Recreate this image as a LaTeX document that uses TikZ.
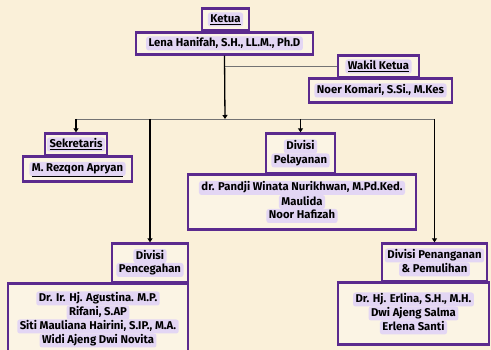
\documentclass[tikz,border=0pt]{standalone}
\usepackage{fontspec}
\setmainfont{Fira Sans}
\usetikzlibrary{arrows.meta,positioning,calc}

\definecolor{krem}{HTML}{FAF0D9}
\definecolor{ungu}{HTML}{5B2A8E}
\definecolor{lavender}{HTML}{E3D6F4}

\tikzset{
  box/.style={draw=ungu, line width=2.4pt, fill=krem!70!white, inner sep=0pt,
    align=center, font=\fontsize{11.3}{14}\selectfont\bfseries},
  hlbox/.style={draw=none, fill=lavender, rounded corners=2.5pt, minimum width=0pt,
    minimum height=0pt, inner xsep=2.5pt, inner ysep=1pt, text height=9pt,
    text depth=3pt},
  link/.style={line width=1.3pt},
  panah/.style={link, -{Triangle[width=5pt,length=4pt]}},
}
\newcommand{\hl}[1]{\tikz[baseline=(t.base)]\node[hlbox] (t) {#1};}

\begin{document}
\begin{tikzpicture}[x=1pt,y=-1pt]
    \fill[krem] (0,0) rectangle (491,350);
    \useasboundingbox (0,0) rectangle (491,350);
    \clip (0,0) rectangle (491,350);

    % Top: Ketua and Wakil Ketua
    \node[box, minimum width=47pt, minimum height=22pt] (ketua) at (225.5,19.5) {\hl{\underline{Ketua}}};
    \node[box, minimum width=177pt, minimum height=22pt] (ketuanama) at (224.5,43.5) {\hl{Lena Hanifah, S.H., LL.M., Ph.D}};
    \node[box, minimum width=81pt, minimum height=22pt] (wakil) at (378.5,66.5) {\hl{\underline{Wakil Ketua}}};
    \node[box, minimum width=143pt, minimum height=24pt] (wakilnama) at (380.5,90.5) {\hl{Noer Komari, S.Si., M.Kes}};

    % Middle: Sekretaris and Divisi Pelayanan
    \node[box, minimum width=62pt, minimum height=22pt] (sekretaris) at (76,144.5) {\hl{\underline{Sekretaris}}};
    \node[box, minimum width=109pt, minimum height=25pt] (sekretarisnama) at (77.5,169) {\hl{\underline{M. Rezqon Apryan}}};
    \node[box, minimum width=69pt, minimum height=40pt] (pelayanan) at (300.5,153.5) {\hl{Divisi}\\\hl{Pelayanan}};
    \node[box, minimum width=228pt, minimum height=55pt] (pelayananisi) at (302,202)
      {\hl{dr. Pandji Winata Nurikhwan, M.Pd.Ked.}\\\hl{Maulida}\\\hl{Noor Hafizah}};

    % Bottom: Divisi Pencegahan and Divisi Penanganan
    \node[box, minimum width=76pt, minimum height=39pt] (pencegahan) at (150,263) {\hl{Divisi}\\\hl{Pencegahan}};
    \node[box, minimum width=180pt, minimum height=72pt] (pencegahanisi) at (98,319.5)
      {\hl{Dr. Ir. Hj. Agustina. M.P.}\\\hl{Rifani, S.AP}\\\hl{Siti Mauliana Hairini, S.IP., M.A.}\\\hl{Widi Ajeng Dwi Novita}};
    \node[box, minimum width=105pt, minimum height=38pt] (penanganan) at (434.5,262.5) {\hl{Divisi Penanganan}\\\hl{\& Pemulihan}};
    \node[box, minimum width=151pt, minimum height=62pt] (penangananisi) at (413.5,313.5)
      {\hl{Dr. Hj. Erlina, S.H., M.H.}\\\hl{Dwi Ajeng Salma}\\\hl{Erlena Santi}};

    % Connectors
    \coordinate (hub) at (225,119);
    \draw[black!55, line width=0.8pt] (wakil.west -| ketuanama.south) -- (wakil.west);
    \draw[black!55, line width=0.8pt] (sekretaris.north |- hub) -- (penanganan.north |- hub);
    \draw[panah] (ketuanama.south) -- (hub);
    \draw[panah] (sekretaris.north |- hub) -- (sekretaris.north);
    \draw[panah] (pencegahan.north |- hub) -- (pencegahan.north);
    \draw[panah] (pelayanan.north |- hub) -- (pelayanan.north);
    \draw[panah] (penanganan.north |- hub) -- (penanganan.north);
\end{tikzpicture}
\end{document}
